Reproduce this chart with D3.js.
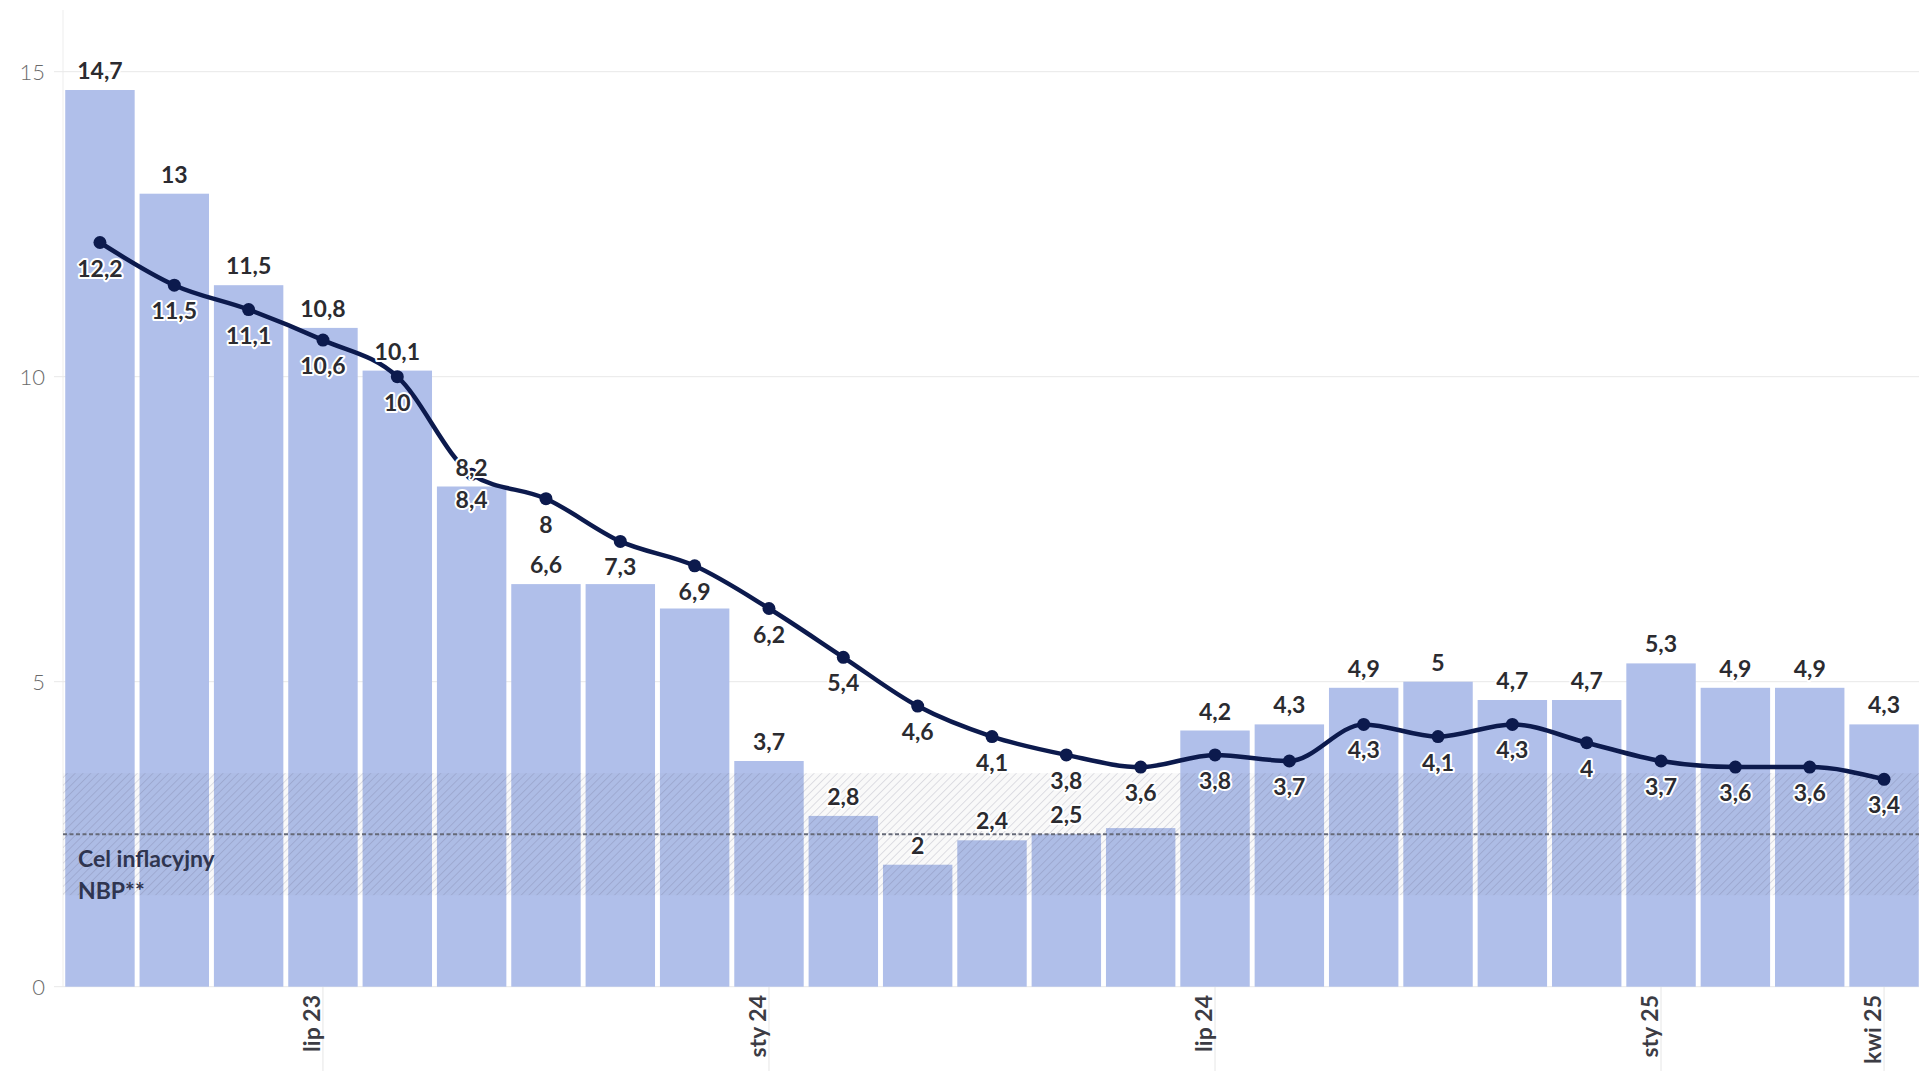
<!DOCTYPE html>
<html><head><meta charset="utf-8">
<script src="https://cdn.jsdelivr.net/npm/d3@7"></script>
<style>
body{margin:0;background:#fff;overflow:hidden;}
svg{display:block;font-family:Lato,"Source Sans Pro","Open Sans",sans-serif;}
</style>
</head><body>
<svg id="chart" width="1919" height="1071"></svg>
<script>
// ---- data ----
const months = ["2023-04","2023-05","2023-06","2023-07","2023-08","2023-09","2023-10","2023-11","2023-12",
  "2024-01","2024-02","2024-03","2024-04","2024-05","2024-06","2024-07","2024-08","2024-09","2024-10","2024-11","2024-12",
  "2025-01","2025-02","2025-03","2025-04"];
const cpi  = [14.7,13,11.5,10.8,10.1,8.2,6.6,6.6,6.2,3.7,2.8,2,2.4,2.5,2.6,4.2,4.3,4.9,5,4.7,4.7,5.3,4.9,4.9,4.3];
const core = [12.2,11.5,11.1,10.6,10,8.4,8,7.3,6.9,6.2,5.4,4.6,4.1,3.8,3.6,3.8,3.7,4.3,4.1,4.3,4,3.7,3.6,3.6,3.4];
const tickMonths = ["2023-07","2024-01","2024-07","2025-01","2025-04"];
const tickLabels = ["lip 23","sty 24","lip 24","sty 25","kwi 25"];
const yTicks = [0,5,10,15];
const targetBand = [1.5,3.5];
const targetValue = 2.5;
const targetLabel = ["Cel inflacyjny","NBP**"];

(function(){
const fmt = v => String(v).replace(".", ",");

// ---- layout ----
const W = 1919, H = 1071;
const mLeft = 63, yBottom = 986.7, yTop = 71.7;
const svg = d3.select("#chart");

const x = d3.scaleBand().domain(months).range([mLeft, 1921]).paddingInner(0.066).paddingOuter(0.03);
const y = d3.scaleLinear().domain([0,15]).range([yBottom, yTop]);

const defs = svg.append("defs");
const pat = defs.append("pattern").attr("id","hatch").attr("patternUnits","userSpaceOnUse")
  .attr("width",5.5).attr("height",5.5).attr("patternTransform","rotate(45)");
pat.append("rect").attr("width",5.5).attr("height",5.5).attr("fill","rgba(90,90,110,0.04)");
pat.append("line").attr("x1",0).attr("y1",0).attr("x2",0).attr("y2",5.5)
  .attr("stroke","rgba(90,90,120,0.24)").attr("stroke-width",1.5);

// left vertical line
svg.append("line").attr("x1",mLeft).attr("x2",mLeft).attr("y1",10).attr("y2",yBottom)
  .attr("stroke","#ededed").attr("stroke-width",1);

// gridlines
svg.append("g").selectAll("line").data(yTicks).join("line")
  .attr("x1",54).attr("x2",W).attr("y1",d=>y(d)).attr("y2",d=>y(d))
  .attr("stroke","#e8e8e8").attr("stroke-width",1);

svg.append("g").selectAll("text").data(yTicks).join("text")
  .attr("x",45).attr("y",d=>y(d)).attr("dy","0.36em").attr("text-anchor","end")
  .attr("font-size",22).attr("font-weight",300).attr("fill","#6a6a6a").text(d=>d);

// x ticks
svg.append("g").selectAll("line").data(tickMonths).join("line")
  .attr("x1",d=>x(d)+x.bandwidth()/2).attr("x2",d=>x(d)+x.bandwidth()/2)
  .attr("y1",yBottom).attr("y2",H).attr("stroke","#e6e6e6").attr("stroke-width",1);

// bars
svg.append("g").selectAll("rect").data(months).join("rect")
  .attr("x",d=>x(d)).attr("width",x.bandwidth())
  .attr("y",(d,i)=>y(cpi[i])).attr("height",(d,i)=>yBottom - y(cpi[i]))
  .attr("fill","#b0bfea");

// target band
svg.append("rect").attr("x",mLeft).attr("width",W-mLeft)
  .attr("y",y(targetBand[1])).attr("height",y(targetBand[0])-y(targetBand[1]))
  .attr("fill","url(#hatch)");
svg.append("line").attr("x1",mLeft).attr("x2",W).attr("y1",y(targetValue)).attr("y2",y(targetValue))
  .attr("stroke","#666a78").attr("stroke-width",2).attr("stroke-dasharray","4,2.5");

svg.append("g").selectAll("text").data(targetLabel).join("text")
  .attr("x",78).attr("y",(d,i)=>867+i*32)
  .attr("font-size",23).attr("font-weight",700).attr("fill","#2f3550").text(d=>d);

// x tick labels
svg.append("g").selectAll("text").data(tickMonths).join("text")
  .attr("transform",d=>`translate(${x(d)+x.bandwidth()/2-3},995) rotate(-90)`)
  .attr("text-anchor","end").attr("font-size",23).attr("font-weight",700).attr("fill","#3c3c44")
  .text((d,i)=>tickLabels[i]);

// line
const cx = d => x(d)+x.bandwidth()/2;
const line = d3.line().x((d,i)=>cx(months[i])).y(d=>y(d)).curve(d3.curveMonotoneX);
svg.append("path").datum(core).attr("d",line).attr("fill","none")
  .attr("stroke","#0c1a4d").attr("stroke-width",4.5);
svg.append("g").selectAll("circle").data(core).join("circle")
  .attr("cx",(d,i)=>cx(months[i])).attr("cy",d=>y(d)).attr("r",6.5).attr("fill","#0c1a4d");

// labels
const barOff = -11, lineOff = 34, cap = 16;
const showBar = cpi.map((v,i)=>{
  const b1 = y(v)+barOff, b0 = b1-cap;
  const l1 = y(core[i])+lineOff, l0 = l1-cap;
  return (b1 + 4 < l0) || (l1 + 4 < b0);
});
const lbl = svg.append("g").attr("font-size",23).attr("font-weight",700).attr("fill","#2b2b30")
  .attr("text-anchor","middle").attr("stroke","#fff").attr("stroke-width",4)
  .attr("stroke-linejoin","round").attr("paint-order","stroke");
lbl.selectAll("text.b").data(cpi).join("text").attr("class","b")
  .attr("x",(d,i)=>cx(months[i])).attr("y",d=>y(d)+barOff)
  .style("display",(d,i)=>showBar[i]?null:"none").text(fmt);
lbl.selectAll("text.l").data(core).join("text").attr("class","l")
  .attr("x",(d,i)=>cx(months[i])).attr("y",d=>y(d)+lineOff).text(fmt);
})();
</script>
</body></html>
